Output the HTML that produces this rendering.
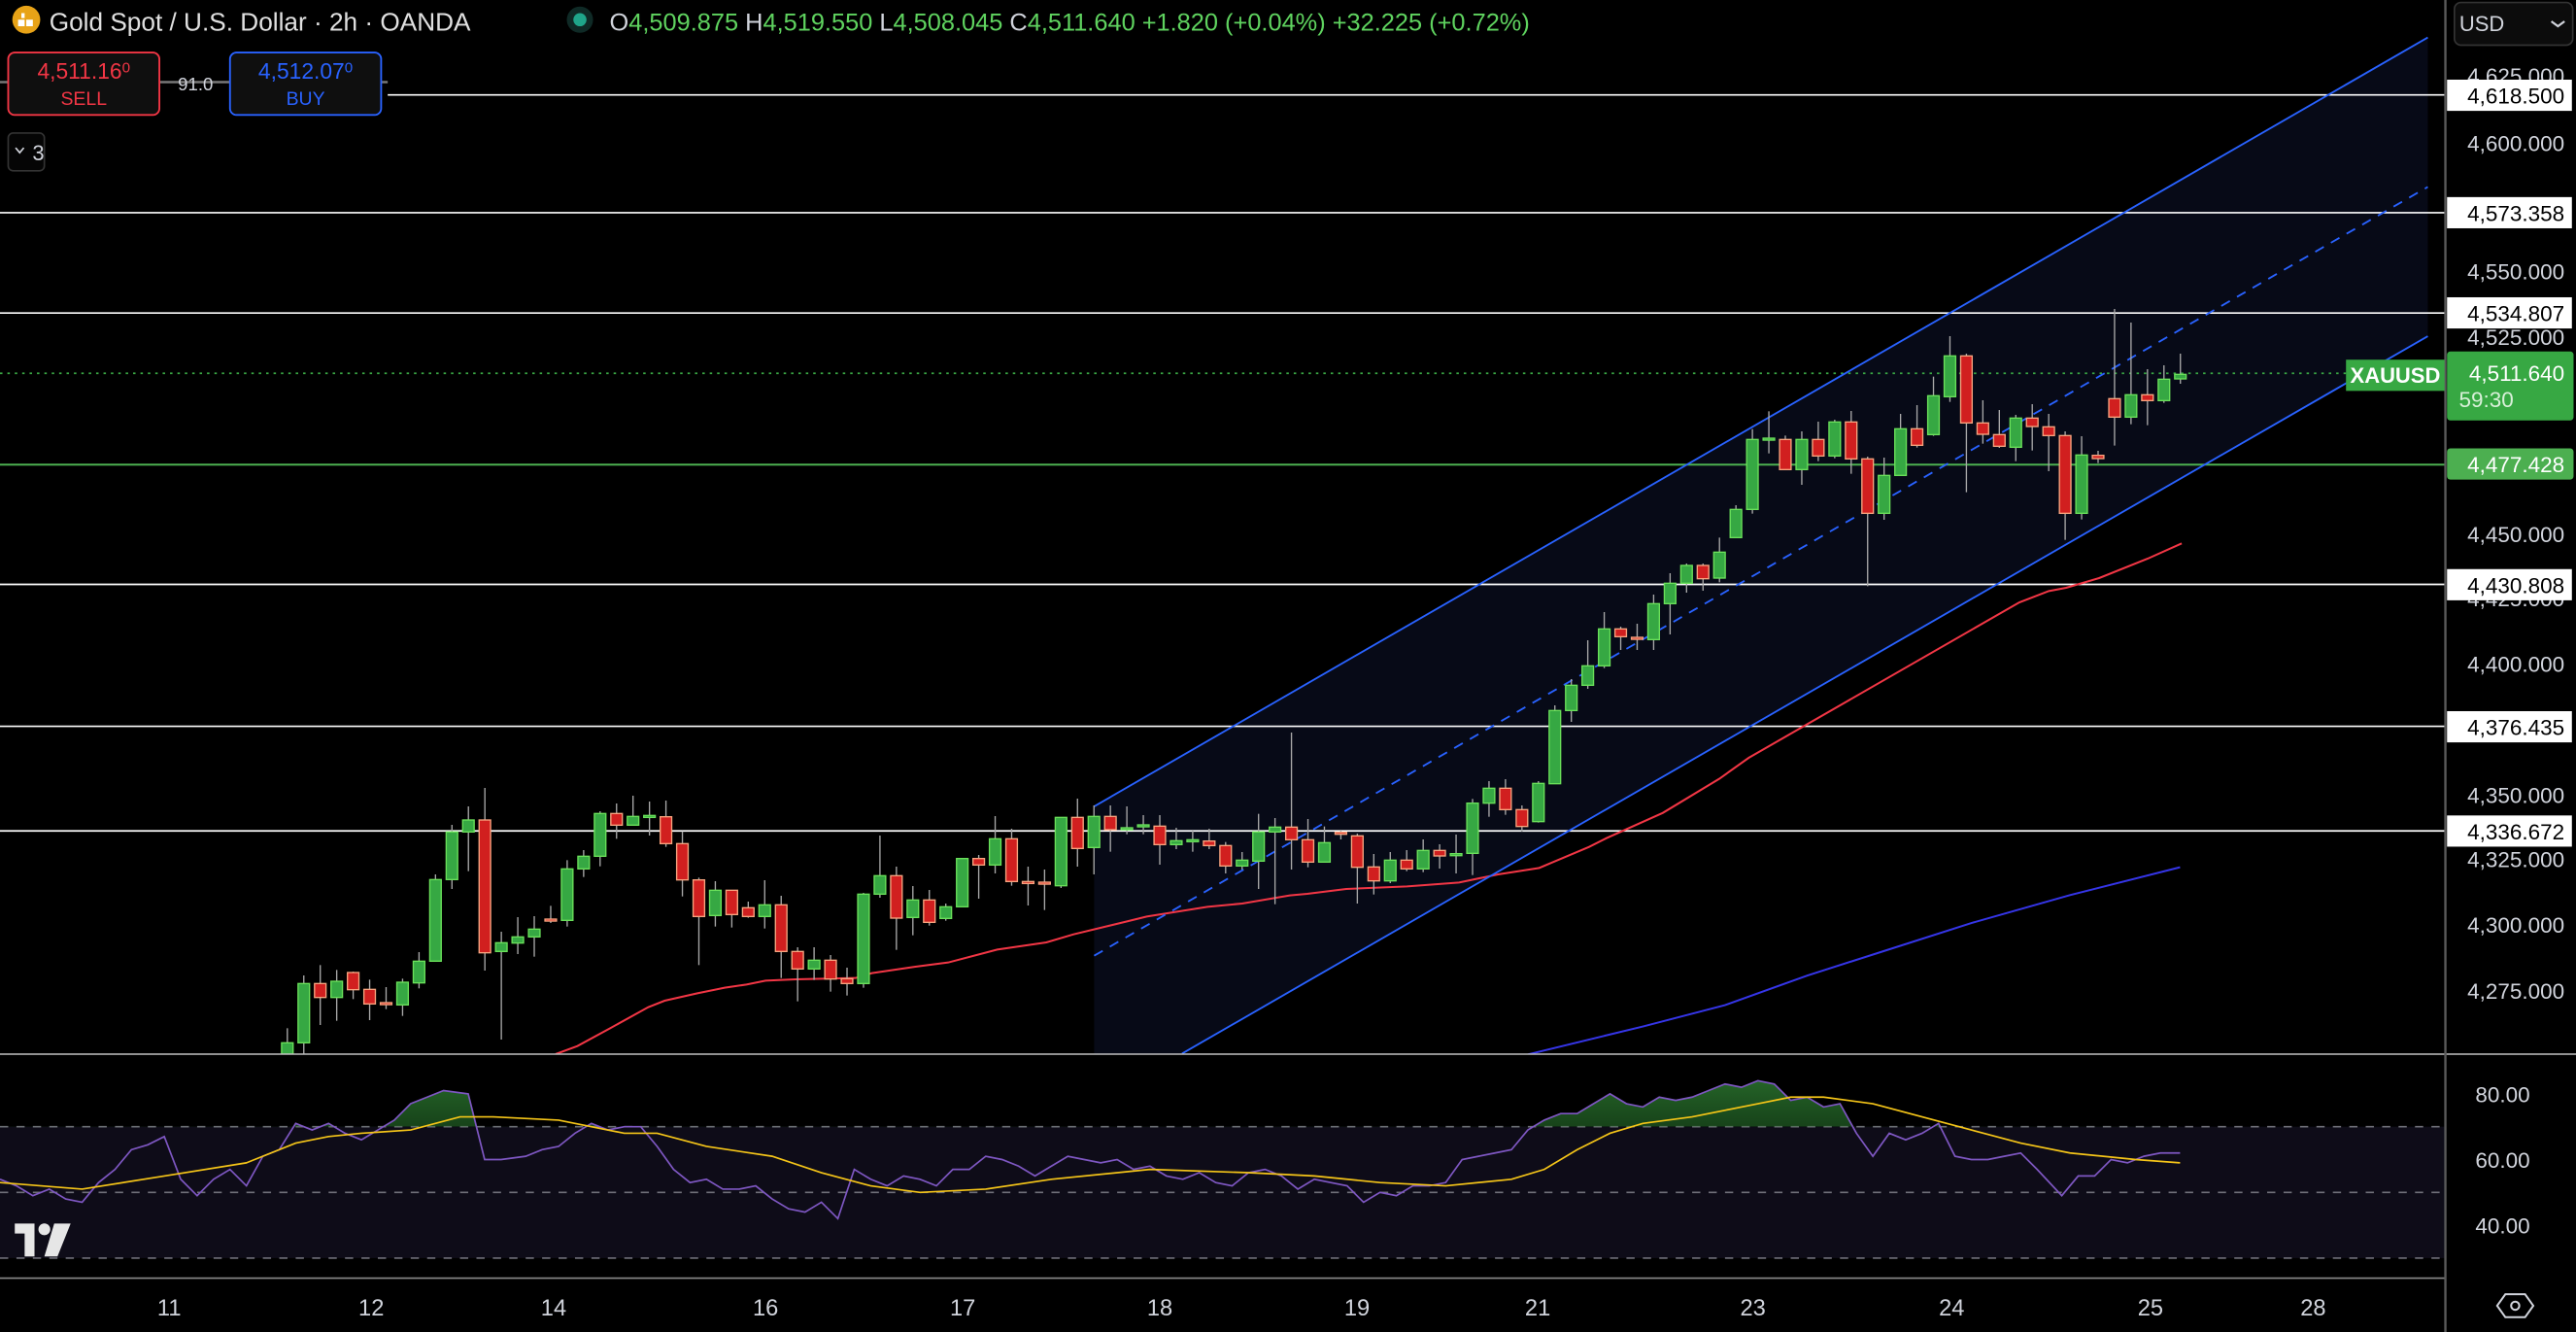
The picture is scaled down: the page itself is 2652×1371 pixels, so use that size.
<!DOCTYPE html>
<html><head><meta charset="utf-8"><style>
html,body{margin:0;padding:0;background:#000;overflow:hidden}
svg{display:block}
text{font-family:"Liberation Sans",sans-serif}
</style></head><body>
<svg id="s" width="2652" height="1371" viewBox="0 0 1568 811" preserveAspectRatio="none" xmlns="http://www.w3.org/2000/svg">
<rect width="1568" height="811" fill="#000"/>
<defs>
<clipPath id="main"><rect x="0" y="0" width="1488" height="641.5"/></clipPath>
<clipPath id="rsiTop"><rect x="0" y="642" width="1488" height="44"/></clipPath>
<linearGradient id="gg" x1="0" y1="0" x2="0" y2="1"><stop offset="0" stop-color="#2e7d32" stop-opacity="0.8"/><stop offset="1" stop-color="#1b5e20" stop-opacity="0.15"/></linearGradient>
</defs>
<!-- channel shading -->
<polygon points="666,491 1477.8,22.8 1477.8,204.7 719.5,641.5 666,641.5" fill="#070a17"/>
<!-- horizontal levels -->
<g stroke="#ffffff" stroke-width="1">
<line x1="236" y1="57.8" x2="1488" y2="57.8"/>
<line x1="0" y1="129.5" x2="1488" y2="129.5"/>
<line x1="0" y1="190.6" x2="1488" y2="190.6"/>
<line x1="0" y1="355.8" x2="1488" y2="355.8"/>
<line x1="0" y1="442.2" x2="1488" y2="442.2"/>
<line x1="0" y1="505.9" x2="1488" y2="505.9"/>
</g>
<line x1="0" y1="282.9" x2="1488" y2="282.9" stroke="#4caf50" stroke-width="1.2"/>
<line x1="0" y1="227.3" x2="1428" y2="227.3" stroke="#3aa845" stroke-width="1" stroke-dasharray="1.5,3"/>
<g id="ma" clip-path="url(#main)"></g>
<!-- channel lines -->
<g clip-path="url(#main)" stroke="#2962ff" stroke-width="1.1" fill="none">
<line x1="666" y1="491" x2="1477.8" y2="22.8"/>
<line x1="719.5" y1="641.5" x2="1477.8" y2="204.7"/>
<line x1="666" y1="581.9" x2="1477.8" y2="113.8" stroke-dasharray="6,5"/>
</g>
<g id="candles" clip-path="url(#main)"></g>
<!-- pane separator -->
<line x1="0" y1="641.8" x2="1568" y2="641.8" stroke="#bfbfbf" stroke-width="0.9"/>
<!-- RSI pane -->
<rect x="0" y="686" width="1488" height="80" fill="#0e0c18"/>
<g stroke="#6f6f78" stroke-width="0.9" stroke-dasharray="5,5">
<line x1="0" y1="686" x2="1488" y2="686"/><line x1="0" y1="726" x2="1488" y2="726"/><line x1="0" y1="766" x2="1488" y2="766"/>
</g>
<g id="rsi"></g>
<!-- TV logo -->
<g fill="#e6e6e6"><path d="M9,745 h12 v20 h-6 v-14 h-6z"/><circle cx="27" cy="748.5" r="3.6"/><path d="M33,745 h10 l-8,20 h-8z"/></g>
<!-- bottom axis -->
<line x1="0" y1="778.2" x2="1488" y2="778.2" stroke="#8a8a8a" stroke-width="1"/>
<g fill="#d1d4dc" font-size="14" text-anchor="middle">
<text x="103" y="801">11</text><text x="226" y="801">12</text><text x="337" y="801">14</text><text x="466" y="801">16</text>
<text x="586" y="801">17</text><text x="706" y="801">18</text><text x="826" y="801">19</text><text x="936" y="801">21</text>
<text x="1067" y="801">23</text><text x="1188" y="801">24</text><text x="1309" y="801">25</text><text x="1408" y="801">28</text>
</g>
<!-- right axis -->
<line x1="1488.5" y1="0" x2="1488.5" y2="811" stroke="#5a5a5a" stroke-width="1.4"/>
<g fill="#d1d4dc" font-size="13.3" text-anchor="end">
<text x="1561" y="51">4,625.000</text><text x="1561" y="92">4,600.000</text><text x="1561" y="170">4,550.000</text>
<text x="1561" y="210">4,525.000</text><text x="1561" y="330">4,450.000</text><text x="1561" y="369">4,425.000</text>
<text x="1561" y="409">4,400.000</text><text x="1561" y="489">4,350.000</text><text x="1561" y="528">4,325.000</text>
<text x="1561" y="568">4,300.000</text><text x="1561" y="608">4,275.000</text>
<text x="1540" y="671">80.00</text><text x="1540" y="711">60.00</text><text x="1540" y="751">40.00</text>
</g>
<g font-size="13.3" text-anchor="end">
<rect x="1489.5" y="48.5" width="76" height="19" fill="#fff"/><text x="1561" y="63" fill="#000">4,618.500</text>
<rect x="1489.5" y="120" width="76" height="19" fill="#fff"/><text x="1561" y="134.5" fill="#000">4,573.358</text>
<rect x="1489.5" y="181" width="76" height="19" fill="#fff"/><text x="1561" y="195.5" fill="#000">4,534.807</text>
<rect x="1489.5" y="346.5" width="76" height="19" fill="#fff"/><text x="1561" y="361" fill="#000">4,430.808</text>
<rect x="1489.5" y="433" width="76" height="19" fill="#fff"/><text x="1561" y="447.5" fill="#000">4,376.435</text>
<rect x="1489.5" y="496.5" width="76" height="19" fill="#fff"/><text x="1561" y="511" fill="#000">4,336.672</text>
<rect x="1489.5" y="214" width="77" height="42" rx="2" fill="#37a843"/><text x="1561" y="232" fill="#fff">4,511.640</text><text x="1530" y="248" fill="#d8f0d8">59:30</text>
<rect x="1489.5" y="273" width="77" height="19" rx="2" fill="#4caf50"/><text x="1561" y="287.5" fill="#fff">4,477.428</text>
</g>
<rect x="1428" y="219" width="60" height="19" fill="#37a843"/><text x="1458" y="233" fill="#fff" font-size="13" font-weight="bold" text-anchor="middle">XAUUSD</text>
<rect x="1494" y="1.5" width="72" height="26" rx="4" fill="#0c0c0c" stroke="#333" stroke-width="1"/>
<text x="1497" y="19" fill="#d1d4dc" font-size="13">USD</text><path d="M1553,13 l4,3 l4,-3" stroke="#d1d4dc" fill="none" stroke-width="1.3"/>
<path d="M1520,795 l5,-7 h12 l5,7 l-5,7 h-12z" fill="none" stroke="#d1d4dc" stroke-width="1.2"/><circle cx="1531" cy="795" r="2.5" fill="none" stroke="#d1d4dc" stroke-width="1.2"/>
<!-- header -->
<circle cx="16" cy="12" r="8.5" fill="#e8a317"/><path d="M13,8 h2 v3 h-2z M11,12 h4 v4 h-4z M16,12 h4 v4 h-4z" fill="#fff"/>
<text x="30" y="18.5" fill="#e0e0e0" font-size="15.5">Gold Spot / U.S. Dollar · 2h · OANDA</text>
<circle cx="353" cy="12" r="8" fill="#0f2a26"/><circle cx="353" cy="12" r="4" fill="#1fa58a"/>
<text x="371" y="18.5" font-size="15" fill="#5fd35f"><tspan fill="#d1d4dc">O</tspan>4,509.875 <tspan fill="#d1d4dc">H</tspan>4,519.550 <tspan fill="#d1d4dc">L</tspan>4,508.045 <tspan fill="#d1d4dc">C</tspan>4,511.640 +1.820 (+0.04%) +32.225 (+0.72%)</text>
<line x1="0" y1="50" x2="236" y2="50" stroke="#777" stroke-width="1.5"/>
<rect x="5" y="32" width="92" height="38" rx="4" fill="#0f0f0f" stroke="#f23645" stroke-width="1.1"/>
<text x="51" y="48" fill="#f23645" font-size="13.5" text-anchor="middle">4,511.16<tspan font-size="9" dy="-4">0</tspan></text>
<text x="51" y="64" fill="#f23645" font-size="11.5" text-anchor="middle">SELL</text>
<text x="119" y="55" fill="#d1d4dc" font-size="11" text-anchor="middle">91.0</text>
<rect x="140" y="32" width="92" height="38" rx="4" fill="#0f0f0f" stroke="#2962ff" stroke-width="1.1"/>
<text x="186" y="48" fill="#2962ff" font-size="13.5" text-anchor="middle">4,512.07<tspan font-size="9" dy="-4">0</tspan></text>
<text x="186" y="64" fill="#2962ff" font-size="11.5" text-anchor="middle">BUY</text>
<rect x="5" y="81" width="22" height="23" rx="3" fill="#050505" stroke="#333"/>
<path d="M9.5,90 l2.5,3 l2.5,-3" stroke="#d1d4dc" fill="none" stroke-width="1"/><text x="27" y="97.5" fill="#d1d4dc" font-size="13" text-anchor="end">3</text>
</svg>
<script>
var NS="http://www.w3.org/2000/svg";
function el(p,t,a){var e=document.createElementNS(NS,t);for(var k in a)e.setAttribute(k,a[k]);p.appendChild(e);return e;}
var Z3=[['g',880,915,835,915],['g',697,880,672,915],['r',697,740,640,825],['g',690,740,655,812],['r',663,716,660,745],['r',715,760,685,810],['r',756,761,708,776],['g',693,763,682,797],['g',628,695,600,712],['g',376,628,360,628],['g',229,376,207,405],['g',192,229,150,350],['r',192,602,93,657],['g',571,598,537,870],['g',553,572,492,606],['g',529,553,489,614],['r',498,503,457,510],['g',343,502,316,521],['g',304,343,285,368],['g',172,304,165,335],['r',172,208,141,250],['g',181,208,117,208],['g',178,183,135,240],['r',182,265,132,275],['r',265,377,227,428],['r',377,490,370,640],['g',409,487,381,521],['r',409,484,409,524],['r',463,490,444,494],['g',454,490,378,527],['r',454,598,426,680],['r',598,652,585,752],['g',625,652,585,686],['r',625,683,609,722],['r',682,697,648,734],['g',421,697,417,710],['g',364,421,240,432],['r',364,495,336,593],['g',439,493,396,548],['r',439,508,408,518],['g',460,496,450,503],['g',311,460,311,460],['r',311,331,300,435],['g',250,331,180,357],['r',250,382,219,395],['r',382,387,336,456],['r',384,389,345,470],['g',184,395,184,402],['r',184,280,126,336],['g',181,277,147,360],['r',181,222,147,290]];
var Z4=[['g',816,820,750,836],['g',807,811,777,836],['r',811,868,777,930],['g',856,868,816,882],['g',853,857,822,890],['r',857,871,819,882],['r',871,934,860,957],['g',916,934,891,945],['g',829,919,773,1005],['g',814,829,786,1052],['r',814,853,522,945],['r',853,922,789,938],['g',862,922,812,922],['r',830,834,822,852],['r',841,938,834,1050],['r',937,980,897,1022],['g',916,980,891,987],['r',916,943,885,950],['g',886,943,852,953],['r',886,903,867,942],['g',896,902,837,957],['g',740,895,727,962],['g',694,740,672,782],['r',694,760,666,776],['r',760,812,747,828],['g',679,797,672,800],['g',454,680,438,680],['g',376,454,357,489],['g',316,376,237,387],['g',202,316,150,323],['r',202,226,195,267],['r',228,232,186,267],['g',124,235,96,267],['g',61,124,30,219],['g',6,61,0,90],['r',6,47,0,84]];
var Z5=[['g',805,885,760,898],['g',673,760,660,760],['g',457,673,425,686],['g',453,457,370,500],['r',457,550,445,550],['g',457,550,432,597],['r',457,508,402,524],['g',403,508,396,515],['r',403,517,369,563],['r',517,685,510,910],['g',568,685,513,705],['g',424,568,378,568],['r',424,475,351,482],['g',322,442,263,446],['g',199,325,138,341],['r',199,406,192,620],['r',406,441,336,470],['r',442,478,366,483],['g',391,481,381,524],['r',391,417,348,491],['r',418,445,378,555],['r',445,685,432,767],['g',505,685,447,704],['r',506,516,492,530],['r',331,388,54,476],['g',319,388,96,410],['r',319,337,240,413],['g',271,337,228,344],['g',256,270,192,285]];
var all=[];
Z3.forEach(function(c){all.push([c,780]);});Z4.forEach(function(c){all.push([c,580]);});Z5.forEach(function(c){all.push([c,300]);});
var cg=document.getElementById('candles');
function Y(y0,z){return (y0+z/3)/1.6905;}
all.forEach(function(a,i){var c=a[0],y0=a[1];var x=174.9+i*10.02;
 var bt=Y(y0,c[1]),bb=Y(y0,c[2]),wt=Y(y0,c[3]),wb=Y(y0,c[4]);
 el(cg,'line',{x1:x,y1:wt,x2:x,y2:wb,stroke:'#a8a8a8','stroke-width':0.8});
 var h=Math.max(bb-bt,1.2);
 el(cg,'rect',{x:x-3.5,y:bt,width:7,height:h,fill:c[0]=='g'?'#36a843':'#d11f1f',stroke:c[0]=='g'?'#6ae05a':'#f7a47f','stroke-width':0.8});
});
function pts(arr,f){return arr.map(function(p){return f(p[0],p[1]).join(',');}).join(' ');}
var ma=document.getElementById('ma');
var r3=[[520,915],[560,890],[620,835],[690,770],[720,750],[780,727],[830,710],[870,700],[905,688],[960,684],[1070,680],[1100,665],[1180,645],[1240,632],[1330,592],[1420,570],[1470,545],[1568,505]];
var r4=[[180,1090],[320,1060],[400,1050],[510,1025],[550,1020],[640,1005],[780,997],[900,985],[990,960],[1085,940],[1200,875],[1240,848],[1370,770],[1500,665],[1568,600]];
var r5=[[1060,960],[1145,925],[1195,915],[1290,885],[1430,825],[1528,778]];
var red=pts(r3,function(x,y){return[165.6+x/3.013,Y(780,y)];})+' '+pts(r4,function(x,y){return[650.5+x/3.788,Y(580,y)];})+' '+pts(r5,function(x,y){return[1005.3+x/4.735,Y(300,y)];});
el(ma,'polyline',{points:red,fill:'none',stroke:'#f23645','stroke-width':1.2});
el(ma,'polyline',{points:'930,642 1000,625 1050,612 1100,594 1150,578 1200,562 1260,545 1327,528',fill:'none',stroke:'#3535e8','stroke-width':1.2});
var rsi=[[0,718],[10,722],[20,728],[30,724],[40,730],[50,732],[60,720],[70,712],[80,700],[90,697],[100,692],[110,718],[120,728],[130,718],[140,712],[150,722],[160,704],[170,700],[180,684],[190,688],[200,684],[210,690],[220,694],[230,688],[240,682],[250,672],[260,668],[270,664],[285,666],[295,706],[305,706],[320,704],[330,700],[340,698],[350,690],[360,684],[370,688],[380,686],[390,686],[400,698],[410,712],[420,720],[430,718],[440,724],[450,724],[460,722],[470,730],[480,736],[490,738],[500,732],[510,742],[520,712],[530,718],[540,722],[550,716],[560,718],[570,722],[580,712],[590,712],[600,704],[610,706],[620,710],[630,716],[640,710],[650,704],[660,706],[670,708],[680,706],[690,712],[700,710],[710,716],[720,718],[730,714],[740,720],[750,722],[760,714],[770,712],[780,716],[790,724],[800,718],[810,720],[820,722],[830,732],[840,726],[850,728],[860,722],[870,722],[880,720],[890,706],[900,704],[910,702],[920,700],[930,688],[940,682],[950,678],[960,678],[970,672],[980,666],[990,672],[1000,674],[1010,668],[1020,670],[1030,668],[1040,664],[1050,660],[1060,662],[1070,658],[1080,660],[1090,670],[1100,668],[1110,674],[1120,672],[1130,690],[1140,704],[1150,690],[1160,694],[1170,690],[1180,684],[1190,704],[1200,706],[1210,706],[1220,704],[1230,702],[1240,712],[1255,728],[1265,716],[1275,716],[1285,706],[1295,708],[1305,704],[1315,702],[1327,702]];
var yel=[[0,720],[50,724],[100,716],[150,708],[180,696],[200,692],[220,690],[250,688],[280,680],[300,680],[340,682],[380,690],[400,690],[430,698],[470,704],[500,714],[530,722],[560,726],[600,724],[640,718],[700,712],[760,714],[800,716],[840,720],[880,722],[920,718],[940,712],[960,700],[980,690],[1000,684],[1030,680],[1050,676],[1070,672],[1090,668],[1110,668],[1140,672],[1170,680],[1200,688],[1230,696],[1260,702],[1300,706],[1327,708]];
var rg=document.getElementById('rsi');
var id=function(x,y){return[x,y];};
var fillP='0,686 '+pts(rsi,id)+' 1327,686';
el(rg,'polygon',{points:fillP,fill:'url(#gg)','clip-path':'url(#rsiTop)'});
el(rg,'polyline',{points:pts(rsi,id),fill:'none',stroke:'#7e57c2','stroke-width':1});
el(rg,'polyline',{points:pts(yel,id),fill:'none',stroke:'#f5c518','stroke-width':1});
</script>
</body></html>
